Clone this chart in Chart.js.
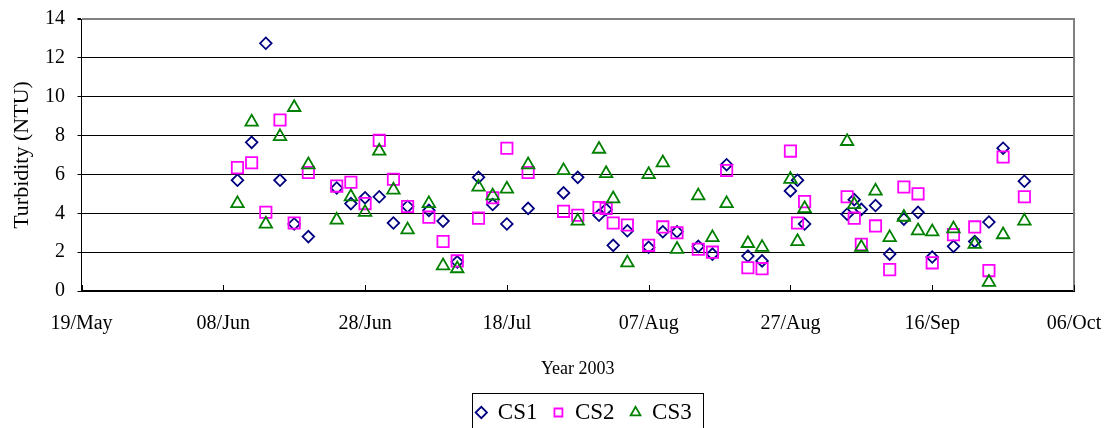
<!DOCTYPE html>
<html>
<head>
<meta charset="utf-8">
<script src="https://cdn.jsdelivr.net/npm/chart.js@4"></script>
<style>
html, body { margin: 0; padding: 0; background: #fff; overflow: hidden; }
#wrap { position: relative; width: 1116px; height: 434px; }
</style>
</head>
<body>
<div id="wrap"><canvas id="c"></canvas></div>
<script>
// ---- data ----
const axisStart = '2003-05-19';
const axisEnd = '2003-10-06';
const tickLabels = ['19/May', '08/Jun', '28/Jun', '18/Jul', '07/Aug', '27/Aug', '16/Sep', '06/Oct'];

const sampleDates = [
  '2003-06-10', '2003-06-12', '2003-06-14', '2003-06-16', '2003-06-18', '2003-06-20',
  '2003-06-24', '2003-06-26', '2003-06-28', '2003-06-30', '2003-07-02', '2003-07-04',
  '2003-07-07', '2003-07-09', '2003-07-11', '2003-07-14', '2003-07-16', '2003-07-18',
  '2003-07-21', '2003-07-26', '2003-07-28', '2003-07-31', '2003-08-01', '2003-08-02',
  '2003-08-04', '2003-08-07', '2003-08-09', '2003-08-11', '2003-08-14', '2003-08-16',
  '2003-08-18', '2003-08-21', '2003-08-23', '2003-08-27', '2003-08-28', '2003-08-29',
  '2003-09-04', '2003-09-05', '2003-09-06', '2003-09-08', '2003-09-10', '2003-09-12',
  '2003-09-14', '2003-09-16', '2003-09-19', '2003-09-22', '2003-09-24', '2003-09-26',
  '2003-09-29'
];

const cs1 = [5.7, 7.65, 12.75, 5.7, 3.45, 2.8, 5.3, 4.5, 4.8, 4.85, 3.5, 4.35,
  4.15, 3.6, 1.5, 5.85, 4.45, 3.45, 4.25, 5.05, 5.85, 3.9, 4.2, 2.35,
  3.1, 2.25, 3.05, 3.05, 2.3, 1.9, 6.5, 1.8, 1.55, 5.15, 5.7, 3.45,
  3.95, 4.7, 4.2, 4.4, 1.9, 3.7, 4.05, 1.75, 2.3, 2.55, 3.55, 7.35, 5.65];

const cs2 = [6.35, 6.6, 4.05, 8.8, 3.5, 6.1, 5.4, 5.6, 4.5, 7.75, 5.75, 4.35,
  3.8, 2.55, 1.55, 3.75, 4.8, 7.35, 6.1, 4.1, 3.9, 4.3, 4.25, 3.5,
  3.4, 2.35, 3.3, 3.0, 2.15, 2.0, 6.2, 1.2, 1.15, 7.2, 3.5, 4.6,
  4.85, 3.75, 2.4, 3.35, 1.1, 5.35, 5.0, 1.45, 2.9, 3.3, 1.05, 6.9, 4.85];

const cs3 = [4.5, 8.7, 3.45, 7.95, 9.45, 6.5, 3.65, 4.85, 4.05, 7.2, 5.2, 3.15,
  4.5, 1.3, 1.15, 5.35, 4.9, 5.25, 6.5, 6.2, 3.6, 7.3, 6.05, 4.75,
  1.45, 6.0, 6.6, 2.15, 4.9, 2.75, 4.5, 2.45, 2.25, 5.75, 2.55, 4.25,
  7.7, 4.45, 2.25, 5.15, 2.75, 3.8, 3.1, 3.05, 3.2, 2.4, 0.45, 2.9, 3.6];

// ---- helpers ----
const DAY_MS = 86400000;
const dayOf = s => Math.round((Date.parse(s + 'T00:00:00Z') - Date.parse(axisStart + 'T00:00:00Z')) / DAY_MS);
const xDays = sampleDates.map(dayOf);
const toPoints = arr => arr.map((v, i) => ({ x: xDays[i], y: v }));

const FONT = '"Liberation Serif", "Times New Roman", serif';
const legendShift = 26;

const framePlugin = {
  id: 'frame',
  beforeDraw(chart) {
    const lg = chart.legend;
    if (!lg) return;
    lg.left = legendShift;
    lg.right = chart.width + legendShift;
  },
  beforeDatasetsDraw(chart) {
    const { ctx, chartArea: a, scales: { x } } = chart;
    ctx.save();
    ctx.strokeStyle = '#808080';
    ctx.lineWidth = 2;
    ctx.beginPath();
    ctx.moveTo(a.right, a.top - 1);
    ctx.lineTo(a.right, a.bottom);
    ctx.stroke();
    ctx.strokeStyle = '#000';
    ctx.lineWidth = 1;
    ctx.beginPath();
    x.ticks.forEach(t => {
      const px = Math.round(x.getPixelForValue(t.value)) + 0.5;
      ctx.moveTo(px, a.bottom);
      ctx.lineTo(px, a.bottom - 6);
    });
    ctx.stroke();
    ctx.restore();
  },
  afterDraw(chart) {
    const lg = chart.legend;
    if (!lg || !lg.legendHitBoxes || !lg.legendHitBoxes.length) return;
    const pad = lg.options.labels.padding;
    const rowW = lg.lineWidths[0];
    const start = (lg.left + pad + lg.right - rowW) / 2;
    const end = start + rowW - pad;
    const ctx = chart.ctx;
    const l = Math.round(start - 4) + 0.5;
    const r = Math.round(end + 11) + 0.5;
    const t = Math.round(lg.legendHitBoxes[0].top - 8) + 0.5;
    ctx.save();
    ctx.strokeStyle = '#000';
    ctx.lineWidth = 1;
    ctx.strokeRect(l, t, r - l, 60);
    ctx.restore();
  }
};

new Chart(document.getElementById('c'), {
  type: 'scatter',
  data: {
    datasets: [
      { label: 'CS1', data: toPoints(cs1), pointStyle: 'rectRot', pointRadius: 5.8, pointHoverRadius: 5.8,
        borderColor: '#000080', backgroundColor: 'rgba(0,0,0,0)', borderWidth: 1.8, order: 2 },
      { label: 'CS2', data: toPoints(cs2), pointStyle: 'rect', pointRadius: 8, pointHoverRadius: 8,
        borderColor: '#FF00FF', backgroundColor: 'rgba(0,0,0,0)', borderWidth: 1.8, order: 1 },
      { label: 'CS3', data: toPoints(cs3), pointStyle: 'triangle', pointRadius: 7.2, pointHoverRadius: 7.2,
        borderColor: '#008000', backgroundColor: 'rgba(0,0,0,0)', borderWidth: 1.8, order: 0 }
    ]
  },
  options: {
    responsive: true,
    maintainAspectRatio: false,
    animation: false,
    events: [],
    layout: { padding: { top: 19, right: 42, bottom: 0, left: 0 } },
    scales: {
      x: {
        type: 'linear',
        min: 0,
        max: dayOf(axisEnd),
        afterFit: s => { s.height = 94; s.paddingLeft = 0; s.paddingRight = 0; },
        ticks: {
          stepSize: 20, autoSkip: false, maxRotation: 0, minRotation: 0, padding: 21,
          color: '#000', font: { family: FONT, size: 20 },
          callback: v => tickLabels[Math.round(v / 20)]
        },
        grid: { display: true, drawOnChartArea: false, drawTicks: false },
        border: { display: true, color: '#000', width: 2 },
        title: { display: true, text: 'Year 2003', color: '#000',
          font: { family: FONT, size: 18 }, padding: { top: 0, bottom: 5 } }
      },
      y: {
        min: 0,
        max: 14,
        afterFit: s => { s.width = 81.5; s.paddingTop = 0; s.paddingBottom = 0; },
        ticks: { stepSize: 2, padding: 12.5, color: '#000', font: { family: FONT, size: 20 } },
        grid: {
          color: c => (c.tick && c.tick.value === 14) ? '#808080' : '#000',
          lineWidth: c => (c.tick && c.tick.value === 14) ? 2 : 1,
          tickLength: 4,
          tickColor: '#000'
        },
        border: { display: true, color: '#000', width: 1 },
        title: { display: true, text: 'Turbidity (NTU)', color: '#000',
          font: { family: FONT, size: 22 }, padding: { top: 8.8, bottom: 0 } }
      }
    },
    plugins: {
      legend: {
        position: 'bottom',
        labels: {
          usePointStyle: true, boxWidth: 10, boxHeight: 8, padding: 16,
          color: '#000', font: { family: FONT, size: 23 },
          sort: (a, b) => a.datasetIndex - b.datasetIndex
        }
      },
      tooltip: { enabled: false }
    }
  },
  plugins: [framePlugin]
});
</script>
</body>
</html>
